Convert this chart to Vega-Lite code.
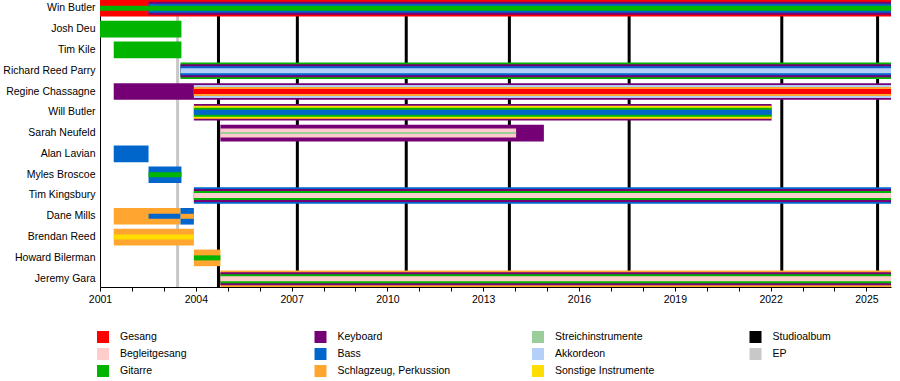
{
  "$schema": "https://vega.github.io/schema/vega-lite/v6.json",
  "width": 791,
  "height": 287,
  "autosize": {"type": "none"},
  "padding": {"left": 100, "top": 0, "right": 9, "bottom": 94},
  "config": {
    "view": {"stroke": null},
    "font": "Liberation Sans",
    "axis": {"labelFont": "Liberation Sans", "labelColor": "#000", "domainColor": "#000", "tickColor": "#000", "title": null, "grid": false, "labelOverlap": false},
    "legend": {"labelFont": "Liberation Sans"}
  },
  "datasets": {
    "members": [
      {"member": "Win Butler", "role": "Gesang", "start": 2001.0, "end": 2025.77, "level": 1},
      {"member": "Win Butler", "role": "Keyboard", "start": 2002.52, "end": 2025.77, "level": 2},
      {"member": "Win Butler", "role": "Bass", "start": 2002.52, "end": 2025.77, "level": 3},
      {"member": "Win Butler", "role": "Gitarre", "start": 2001.0, "end": 2025.77, "level": 4},
      {"member": "Josh Deu", "role": "Gitarre", "start": 2001.0, "end": 2003.55, "level": 1},
      {"member": "Tim Kile", "role": "Gitarre", "start": 2001.43, "end": 2003.55, "level": 1},
      {"member": "Richard Reed Parry", "role": "Gitarre", "start": 2003.52, "end": 2025.77, "level": 1},
      {"member": "Richard Reed Parry", "role": "Keyboard", "start": 2003.52, "end": 2025.77, "level": 2},
      {"member": "Richard Reed Parry", "role": "Bass", "start": 2003.52, "end": 2025.77, "level": 3},
      {"member": "Richard Reed Parry", "role": "Akkordeon", "start": 2003.52, "end": 2025.77, "level": 4},
      {"member": "Regine Chassagne", "role": "Keyboard", "start": 2001.43, "end": 2025.77, "level": 1},
      {"member": "Regine Chassagne", "role": "Akkordeon", "start": 2003.94, "end": 2025.77, "level": 2},
      {"member": "Regine Chassagne", "role": "Schlagzeug, Perkussion", "start": 2003.94, "end": 2025.77, "level": 3},
      {"member": "Regine Chassagne", "role": "Gesang", "start": 2003.94, "end": 2025.77, "level": 4},
      {"member": "Will Butler", "role": "Keyboard", "start": 2003.94, "end": 2022.03, "level": 1},
      {"member": "Will Butler", "role": "Sonstige Instrumente", "start": 2003.94, "end": 2022.03, "level": 2},
      {"member": "Will Butler", "role": "Gitarre", "start": 2003.94, "end": 2022.03, "level": 3},
      {"member": "Will Butler", "role": "Bass", "start": 2003.94, "end": 2022.03, "level": 4},
      {"member": "Sarah Neufeld", "role": "Keyboard", "start": 2004.77, "end": 2014.9, "level": 1},
      {"member": "Sarah Neufeld", "role": "Begleitgesang", "start": 2004.77, "end": 2014.03, "level": 3},
      {"member": "Sarah Neufeld", "role": "Streichinstrumente", "start": 2004.77, "end": 2014.03, "level": 5},
      {"member": "Alan Lavian", "role": "Bass", "start": 2001.43, "end": 2002.52, "level": 1},
      {"member": "Myles Broscoe", "role": "Bass", "start": 2002.52, "end": 2003.55, "level": 1},
      {"member": "Myles Broscoe", "role": "Gitarre", "start": 2002.52, "end": 2003.55, "level": 4},
      {"member": "Tim Kingsbury", "role": "Bass", "start": 2003.94, "end": 2025.77, "level": 1},
      {"member": "Tim Kingsbury", "role": "Keyboard", "start": 2003.94, "end": 2025.77, "level": 2},
      {"member": "Tim Kingsbury", "role": "Gitarre", "start": 2003.94, "end": 2025.77, "level": 3},
      {"member": "Tim Kingsbury", "role": "Begleitgesang", "start": 2003.94, "end": 2025.77, "level": 4},
      {"member": "Dane Mills", "role": "Schlagzeug, Perkussion", "start": 2001.43, "end": 2003.52, "level": 1},
      {"member": "Dane Mills", "role": "Bass", "start": 2003.52, "end": 2003.94, "level": 1},
      {"member": "Dane Mills", "role": "Bass", "start": 2002.52, "end": 2003.52, "level": 4},
      {"member": "Dane Mills", "role": "Schlagzeug, Perkussion", "start": 2003.52, "end": 2003.94, "level": 4},
      {"member": "Brendan Reed", "role": "Schlagzeug, Perkussion", "start": 2001.43, "end": 2003.94, "level": 1},
      {"member": "Brendan Reed", "role": "Sonstige Instrumente", "start": 2001.43, "end": 2003.94, "level": 4},
      {"member": "Howard Bilerman", "role": "Schlagzeug, Perkussion", "start": 2003.94, "end": 2004.77, "level": 1},
      {"member": "Howard Bilerman", "role": "Gitarre", "start": 2003.94, "end": 2004.77, "level": 4},
      {"member": "Jeremy Gara", "role": "Schlagzeug, Perkussion", "start": 2004.77, "end": 2025.77, "level": 1},
      {"member": "Jeremy Gara", "role": "Keyboard", "start": 2004.77, "end": 2025.77, "level": 2},
      {"member": "Jeremy Gara", "role": "Gitarre", "start": 2004.77, "end": 2025.77, "level": 3},
      {"member": "Jeremy Gara", "role": "Begleitgesang", "start": 2004.77, "end": 2025.77, "level": 4}
    ],
    "albums": [
      {"album": "Arcade Fire (EP)", "role": "EP", "date": 2003.43},
      {"album": "Funeral", "role": "Studioalbum", "date": 2004.71},
      {"album": "Neon Bible", "role": "Studioalbum", "date": 2007.18},
      {"album": "The Suburbs", "role": "Studioalbum", "date": 2010.59},
      {"album": "Reflektor", "role": "Studioalbum", "date": 2013.82},
      {"album": "Everything Now", "role": "Studioalbum", "date": 2017.57},
      {"album": "WE", "role": "Studioalbum", "date": 2022.35},
      {"album": "Pink Elephant", "role": "Studioalbum", "date": 2025.35}
    ]
  },
  "layer": [
    {
      "data": {"name": "albums"},
      "mark": {"type": "rule", "strokeWidth": 3},
      "encoding": {
        "x": {
          "field": "date", "type": "quantitative",
          "scale": {"domain": [2001, 2025.77], "nice": false, "zero": false},
          "axis": {
            "values": [2001, 2002, 2003, 2004, 2005, 2006, 2007, 2008, 2009, 2010, 2011, 2012, 2013, 2014, 2015, 2016, 2017, 2018, 2019, 2020, 2021, 2022, 2023, 2024, 2025],
            "labelExpr": "(datum.value - 2001) % 3 == 0 ? format(datum.value, 'd') : ''",
            "labelFontSize": 10.5, "tickSize": 4, "labelPadding": 3, "labelFlush": false, "labelOverlap": false
          }
        },
        "color": {
          "field": "role", "type": "nominal",
          "legend": {
            "title": null, "orient": "none", "legendX": -3, "legendY": 331,
            "columns": 4, "gridAlign": "all", "columnPadding": 81.5, "rowPadding": 5,
            "symbolType": "square", "symbolSize": 144, "symbolStrokeWidth": 0, "symbolOffset": 0,
            "labelFontSize": 10.5, "labelOffset": 11, "labelColor": "#000", "padding": 0, "labelLimit": 300
          }
        }
      }
    },
    {
      "data": {"name": "members"},
      "mark": {"type": "bar"},
      "encoding": {
        "y": {
          "field": "member", "type": "nominal",
          "sort": ["Win Butler", "Josh Deu", "Tim Kile", "Richard Reed Parry", "Regine Chassagne", "Will Butler", "Sarah Neufeld", "Alan Lavian", "Myles Broscoe", "Tim Kingsbury", "Dane Mills", "Brendan Reed", "Howard Bilerman", "Jeremy Gara"],
          "scale": {"paddingInner": 0.2, "paddingOuter": 0},
          "axis": {"ticks": false, "labelFontSize": 10.5, "labelPadding": 5, "domainWidth": 1}
        },
        "x": {
          "field": "start", "type": "quantitative",
          "scale": {"domain": [2001, 2025.77], "nice": false, "zero": false},
          "axis": {
            "values": [2001, 2002, 2003, 2004, 2005, 2006, 2007, 2008, 2009, 2010, 2011, 2012, 2013, 2014, 2015, 2016, 2017, 2018, 2019, 2020, 2021, 2022, 2023, 2024, 2025],
            "labelExpr": "(datum.value - 2001) % 3 == 0 ? format(datum.value, 'd') : ''",
            "labelFontSize": 10.5, "tickSize": 4, "labelPadding": 3, "labelFlush": false, "labelOverlap": false
          }
        },
        "x2": {"field": "end"},
        "size": {
          "field": "level", "type": "quantitative",
          "scale": {"type": "linear", "domain": [1, 2, 3, 4, 5], "range": [16.6, 13, 9, 5, 2]},
          "legend": null
        },
        "color": {
          "field": "role", "type": "nominal",
          "scale": {
            "domain": ["Gesang", "Begleitgesang", "Gitarre", "Keyboard", "Bass", "Schlagzeug, Perkussion", "Streichinstrumente", "Akkordeon", "Sonstige Instrumente", "Studioalbum", "EP"],
            "range": ["#FF0000", "#FFCCCC", "#00B400", "#750075", "#0066CC", "#FFA530", "#9ACD9A", "#B4D0F8", "#FFDD00", "#000000", "#C8C8C8"]
          },
          "legend": {
            "title": null, "orient": "none", "legendX": -3, "legendY": 331,
            "columns": 4, "gridAlign": "all", "columnPadding": 81.5, "rowPadding": 5,
            "symbolType": "square", "symbolSize": 144, "symbolStrokeWidth": 0, "symbolOffset": 0,
            "labelFontSize": 10.5, "labelOffset": 11, "labelColor": "#000", "padding": 0, "labelLimit": 300
          }
        }
      }
    }
  ]
}
